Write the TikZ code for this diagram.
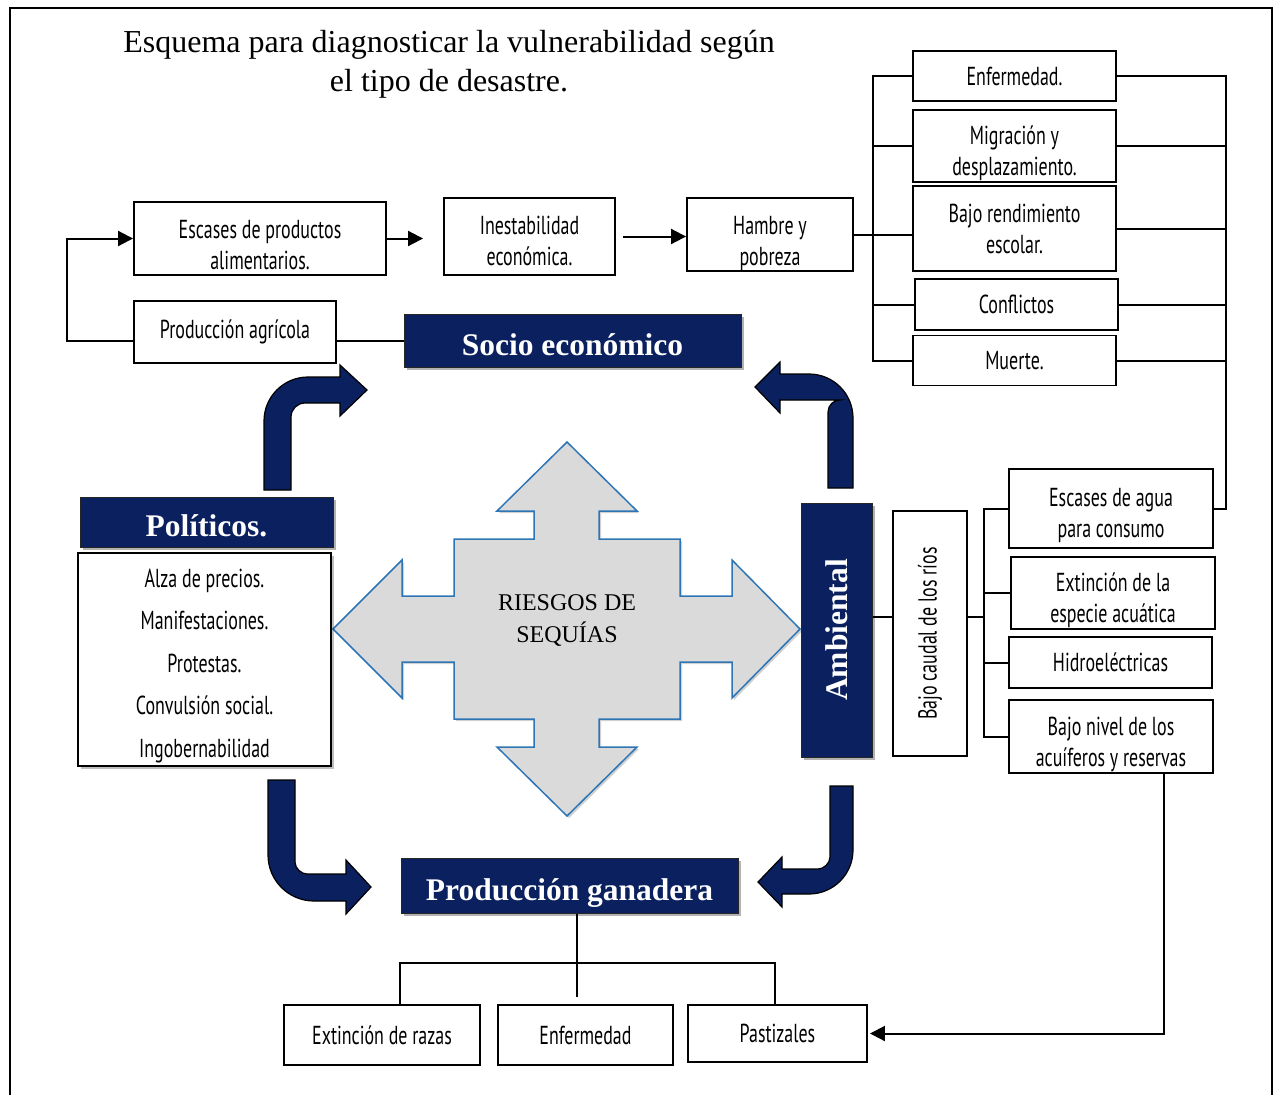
\documentclass[tikz,border=0pt]{standalone}
\usepackage{fontspec}
\usepackage{graphicx}
\setmainfont{Liberation Serif}
\newfontfamily\agency[FakeStretch=0.69]{PT Sans}
\usetikzlibrary{arrows.meta,shadows}
\definecolor{mynavy}{HTML}{0B205E}
\definecolor{starfill}{HTML}{DADADA}
\definecolor{starline}{HTML}{2E75B6}
\newcommand{\lowr}[1]{\rule{0pt}{#1}}
\tikzset{
  box/.style={draw=black, line width=1.9pt, fill=white, inner sep=0pt, align=center,
    font=\agency\fontsize{26}{31}\selectfont},
  navybox/.style={draw=black!85, line width=1pt, fill=mynavy, text=white, inner sep=0pt,
    font=\bfseries\fontsize{31.5}{34}\selectfont,
    drop shadow={shadow xshift=2.5pt, shadow yshift=-2.5pt, fill=black, opacity=0.3}},
  navytext/.style={text height=30pt, text depth=1pt},
  listbox/.style={box, drop shadow={shadow xshift=3pt, shadow yshift=-3pt, fill=black, opacity=0.25}},
  conn/.style={line width=2pt},
  thinconn/.style={line width=1.5pt},
  arr/.style={conn, -{Triangle[length=15pt,width=15pt]}},
  bendarrow/.style={fill=mynavy, draw=black, line width=1.2pt},
  bigstar/.style={fill=starfill, draw=starline, line width=1.5pt,
    drop shadow={shadow xshift=2pt, shadow yshift=-2pt, fill=black, opacity=0.18}},
}
\begin{document}
\begin{tikzpicture}[x=1pt,y=-1pt]
\useasboundingbox (0,0) rectangle (1281,1095);
% frame
\draw[line width=1.6pt] (10,1095) -- (10,8) -- (1272,8) -- (1272,1095);

% title
\node[align=center, font=\fontsize{32}{39}\selectfont] (title) at (449,64)
  {Esquema para diagnosticar la vulnerabilidad según\\el tipo de desastre.};

% central four-way arrow
\draw[bigstar] (567,442) -- (637,511) -- (599,511) -- (599,539) -- (680,539) -- (680,596)
  -- (732,596) -- (732,560) -- (800,629) -- (732,698) -- (732,662) -- (680,662) -- (680,719)
  -- (599,719) -- (599,747) -- (637,747) -- (567,816) -- (497,747) -- (534,747) -- (534,719)
  -- (454,719) -- (454,662) -- (402,662) -- (402,698) -- (333,629) -- (402,560) -- (402,596)
  -- (454,596) -- (454,539) -- (534,539) -- (534,511) -- (497,511) -- cycle;
\node[align=center, font=\fontsize{24}{32}\selectfont] (riesgo) at (567,620) {RIESGOS DE\\SEQUÍAS};

% bent block arrows
\draw[bendarrow] (264,490) -- (264,421) .. controls (264,396.7) and (283.7,377) .. (308,377)
  -- (340,377) -- (340,365) -- (367,390) -- (340,416) -- (340,403) -- (305,403)
  .. controls (297.3,403) and (291,409.3) .. (291,417) -- (291,490) -- cycle;
\draw[bendarrow] (853,488) -- (853,418) .. controls (853,393.7) and (833.3,374) .. (809,374)
  -- (780,374) -- (780,362) -- (755,387) -- (780,413) -- (780,400) -- (840,400)
  .. controls (833.4,400) and (828,405.4) .. (828,412) -- (828,488) -- cycle;
\draw[bendarrow] (268,780) -- (268,855) .. controls (268,880.4) and (288.6,901) .. (314,901)
  -- (346,901) -- (346,914) -- (371,887) -- (346,860) -- (346,874) -- (307,874)
  .. controls (301.6,874) and (295,868.6) .. (295,862) -- (295,780) -- cycle;
\draw[bendarrow] (853,786) -- (853,850) .. controls (853,874.3) and (833.3,894) .. (809,894)
  -- (782,894) -- (782,907) -- (758,882) -- (782,857) -- (782,869) -- (818,869)
  .. controls (823.4,869) and (830,863.6) .. (830,857) -- (830,786) -- cycle;

% top-left chain
\node[box, minimum width=252, minimum height=73] (esc) at (260,238.5) {\lowr{32pt}Escases de productos\\alimentarios.};
\node[box, minimum width=171, minimum height=77] (inest) at (529.5,236.5) {\lowr{27pt}Inestabilidad\\económica.};
\node[box, minimum width=166, minimum height=73] (ham) at (770,234.5) {\lowr{36pt}Hambre y\\pobreza};
\node[box, minimum width=202, minimum height=62] (agr) at (235,332) {Producción agrícola};
\node[navybox, navytext, minimum width=337, minimum height=53] (soc) at (572.5,340.5) {Socio económico};

% right column
\node[box, minimum width=203, minimum height=50] (enf) at (1014.5,76) {Enfermedad.};
\node[box, minimum width=203, minimum height=72] (mig) at (1014.5,146) {\lowr{34pt}Migración y\\desplazamiento.};
\node[box, minimum width=203, minimum height=85] (rend) at (1014.5,228.5) {Bajo rendimiento\\escolar.};
\node[box, minimum width=203, minimum height=51] (conf) at (1016.5,304.5) {Conflictos};
\node[box, minimum width=203, minimum height=50] (muer) at (1014.5,360.5) {Muerte.};

% political
\node[navybox, navytext, minimum width=253, minimum height=50] (pol) at (206.5,522) {Políticos.};
\node[listbox, minimum width=253, minimum height=213, font=\agency\fontsize{26}{42.5}\selectfont] (list) at (204.5,659.5)
  {\lowr{31pt}Alza de precios.\\Manifestaciones.\\Protestas.\\Convulsión social.\\Ingobernabilidad};

% environmental
\node[navybox, minimum width=71, minimum height=254] (amb) at (836.5,630) {\rotatebox{90}{Ambiental}};
\node[box, minimum width=74, minimum height=245] (caudal) at (930,633.5) {\rotatebox{90}{Bajo caudal de los ríos}};
\node[box, minimum width=204, minimum height=79] (agua) at (1111,508.5) {\lowr{32pt}Escases de agua\\para consumo};
\node[box, minimum width=204, minimum height=72] (ext) at (1113,593) {\lowr{34pt}Extinción de la\\especie acuática};
\node[box, minimum width=203, minimum height=51] (hidro) at (1110.5,662.5) {Hidroeléctricas};
\node[box, minimum width=204, minimum height=73] (nivel) at (1111,736.5) {\lowr{34pt}Bajo nivel de los\\acuíferos y reservas};

% livestock
\node[navybox, navytext, minimum width=337, minimum height=55] (gan) at (569.5,885.5) {Producción ganadera};
\node[box, minimum width=196, minimum height=60] (raz) at (382,1035) {Extinción de razas};
\node[box, minimum width=175, minimum height=60] (enf2) at (585.5,1035) {Enfermedad};
\node[box, minimum width=179, minimum height=57] (past) at (777.5,1033.5) {Pastizales};

% helper coordinates
\coordinate (bl) at (873,0);
\coordinate (br) at (1226,0);
\coordinate (bc) at (984,0);
\coordinate (nv) at (1164,0);
\coordinate (gb) at (577,997);
\coordinate (gl) at (400,963);
\coordinate (gr) at (775,963);

% connectors top-left
\draw[arr, shorten >=20pt] (esc.east) -- (esc.east -| inest.west);
\draw[arr, shorten <=7pt] (inest.east) -- (inest.east -| ham.west);
\draw[arr] (soc.west -| agr.west) -- ++(-66,0) |- (esc.west);
\draw[conn] (soc.west -| agr.east) -- (soc.west);

% connectors right tree
\draw[conn] (ham.east) -- (ham.east -| rend.west);
\draw[conn] (enf.west) -- (enf.west -| bl) -- (muer.west -| bl) -- (muer.west);
\draw[conn] (mig.west -| bl) -- (mig.west);
\draw[conn] (conf.west -| bl) -- (conf.west);
\draw[conn] (enf.east) -- (enf.east -| br) -- (agua.east -| br) -- (agua.east);
\draw[conn] (mig.east) -- (mig.east -| br);
\draw[conn] (rend.east) -- (rend.east -| br);
\draw[conn] (conf.east) -- (conf.east -| br);
\draw[conn] (muer.east) -- (muer.east -| br);

% environmental connectors
\draw[conn] ([yshift=13pt]amb.east) -- ([yshift=13pt]amb.east -| caudal.west);
\draw[conn] ([yshift=13pt]amb.east -| caudal.east) -- ([yshift=13pt]amb.east -| bc);
\draw[conn] (agua.west) -- (agua.west -| bc) -- (nivel.west -| bc) -- (nivel.west);
\draw[conn] (ext.west -| bc) -- (ext.west);
\draw[conn] (hidro.west -| bc) -- (hidro.west);
\draw[arr, shorten >=2pt] (nivel.south -| nv) |- (past.east);

% livestock connectors
\draw[thinconn] (gan.south -| gb) -- (gb);
\draw[thinconn] (raz.north -| gl) -- (gl) -- (gr) -- (past.north -| gr);
\end{tikzpicture}
\end{document}
